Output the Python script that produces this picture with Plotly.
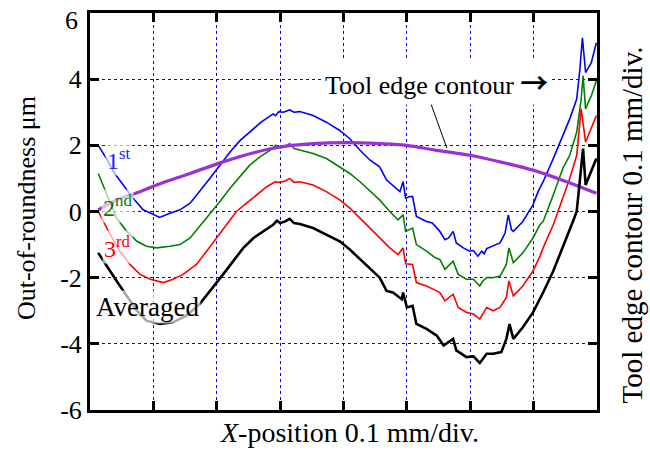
import plotly.graph_objects as go

# ---- data (x in 0.1 mm divisions, y in µm) ----
first_x = [0.13, 0.26, 0.39, 0.53, 0.68, 0.84, 1.0, 1.1, 1.26, 1.42, 1.58, 1.73, 1.89, 2.05, 2.21, 2.37, 2.52, 2.7, 2.89,
           2.93, 2.98, 3.05, 3.15, 3.22, 3.31, 3.52, 3.73, 3.94, 4.1, 4.26, 4.42, 4.57, 4.68, 4.81, 4.89, 4.94, 4.98,
           5.05, 5.09, 5.15, 5.31, 5.4, 5.52, 5.6, 5.66, 5.73, 5.78, 5.89, 5.99, 6.05, 6.12, 6.18, 6.22, 6.26, 6.36,
           6.47, 6.55, 6.6, 6.65, 6.68, 6.83, 6.99, 7.07, 7.15, 7.31, 7.46, 7.57, 7.68, 7.73, 7.77, 7.82, 7.91, 7.99]
first_y = [2.0, 1.6, 1.15, 0.8, 0.4, 0.05, -0.1, -0.18, -0.05, 0.05, 0.25, 0.6, 1.0, 1.4, 1.8, 2.15, 2.4, 2.7, 2.95,
           2.9, 3.02, 3.0, 3.07, 3.0, 3.02, 2.9, 2.7, 2.45, 2.2, 1.85, 1.55, 1.35, 0.95, 0.75, 0.6, 0.9, 0.4,
           0.45, 0.45, -0.15, -0.3, -0.35, -0.6, -0.85, -0.8, -0.6, -0.95, -1.1, -1.2, -1.18, -1.35, -1.2, -1.28, -1.12, -1.05,
           -0.95, -0.65, -0.1, -0.55, -0.6, -0.3, 0.2, 0.6, 0.9, 1.6, 2.3, 2.8, 3.4, 4.3, 5.25, 4.2, 4.5, 5.1]

second_x = [0.13, 0.24, 0.32, 0.42, 0.58, 0.74, 0.89, 1.05, 1.26, 1.42, 1.58, 1.73, 1.89, 2.05, 2.21, 2.37, 2.52, 2.68,
            2.84, 2.93, 3.0, 3.08, 3.15, 3.22, 3.31, 3.52, 3.73, 3.94, 4.1, 4.26, 4.42, 4.57, 4.73, 4.86, 4.94, 4.98,
            5.09, 5.15, 5.31, 5.45, 5.52, 5.6, 5.73, 5.81, 5.94, 6.05, 6.15, 6.2, 6.26, 6.36, 6.47, 6.57, 6.61, 6.68,
            6.83, 6.99, 7.1, 7.15, 7.31, 7.46, 7.57, 7.68, 7.75, 7.78, 7.82, 7.91, 7.99]
second_y = [1.15, 0.65, 0.25, -0.2, -0.6, -0.9, -1.05, -1.1, -1.05, -1.0, -0.8, -0.45, -0.1, 0.3, 0.7, 1.05, 1.4, 1.65,
            1.85, 2.0, 1.92, 1.95, 2.05, 1.9, 1.85, 1.75, 1.6, 1.35, 1.15, 0.9, 0.6, 0.35, 0.0, -0.25, -0.1, -0.6,
            -0.5, -1.0, -1.2, -1.4, -1.45, -1.75, -1.5, -1.9, -2.05, -2.05, -2.25, -2.1, -2.0, -2.0, -1.95, -1.6, -1.1, -1.55,
            -1.25, -0.8, -0.4, -0.3, 0.5, 1.3, 1.7, 2.4, 3.4, 4.1, 3.1, 3.5, 3.95]

third_x = [0.13, 0.21, 0.32, 0.47, 0.63, 0.79, 0.95, 1.16, 1.31, 1.47, 1.68, 1.84, 2.0, 2.16, 2.31, 2.47, 2.63, 2.79,
           2.92, 3.0, 3.08, 3.15, 3.22, 3.31, 3.52, 3.73, 3.94, 4.1, 4.26, 4.42, 4.57, 4.73, 4.86, 4.94, 4.98, 5.09,
           5.15, 5.31, 5.47, 5.52, 5.6, 5.73, 5.81, 5.94, 6.05, 6.15, 6.26, 6.36, 6.47, 6.57, 6.61, 6.68, 6.83, 6.99,
           7.1, 7.15, 7.31, 7.46, 7.57, 7.68, 7.75, 7.82, 7.91, 7.99]
third_y = [0.0, -0.3, -0.7, -1.2, -1.6, -1.9, -2.05, -2.15, -2.05, -1.9, -1.6, -1.2, -0.8, -0.4, 0.0, 0.25, 0.5, 0.75,
           0.9, 0.88, 0.92, 1.0, 0.88, 0.9, 0.8, 0.6, 0.35, 0.1, -0.2, -0.5, -0.8, -1.1, -1.3, -1.1, -1.58, -1.6,
           -2.15, -2.25, -2.4, -2.45, -2.7, -2.5, -2.9, -3.05, -3.1, -3.25, -2.9, -3.0, -2.9, -2.6, -2.1, -2.55, -2.25, -1.8,
           -1.35, -1.1, -0.4, 0.4, 1.0, 1.7, 3.1, 2.1, 2.5, 2.9]

avg_x = [0.13, 0.26, 0.42, 0.58, 0.74, 0.89, 1.1, 1.31, 1.52, 1.73, 1.94, 2.1, 2.26, 2.42, 2.58, 2.73, 2.89, 2.95,
         3.0, 3.08, 3.15, 3.22, 3.31, 3.52, 3.73, 3.94, 4.1, 4.26, 4.42, 4.57, 4.68, 4.78, 4.92, 4.94, 5.0, 5.09,
         5.15, 5.31, 5.47, 5.58, 5.73, 5.78, 5.94, 6.05, 6.15, 6.26, 6.36, 6.49, 6.57, 6.62, 6.68, 6.83, 6.99, 7.15,
         7.31, 7.46, 7.62, 7.68, 7.75, 7.78, 7.82, 7.91, 7.99]
avg_y = [-1.25, -1.65, -2.1, -2.55, -3.0, -3.3, -3.4, -3.35, -3.15, -2.8, -2.3, -1.9, -1.5, -1.1, -0.8, -0.6, -0.4, -0.28,
         -0.35, -0.3, -0.22, -0.35, -0.38, -0.5, -0.7, -0.9, -1.15, -1.45, -1.75, -2.0, -2.4, -2.45, -2.65, -2.45, -2.9, -2.85,
         -3.4, -3.55, -3.75, -4.05, -3.85, -4.2, -4.4, -4.38, -4.58, -4.3, -4.3, -4.25, -3.85, -3.4, -3.85, -3.5, -3.05, -2.45,
         -1.8, -1.1, -0.3, 0.0, 1.2, 1.9, 0.8, 1.2, 1.6]

tool_x = [0.13, 0.42, 0.79, 1.05, 1.58, 2.1, 2.63, 3.0, 3.52, 4.05, 4.57, 4.99, 5.47, 5.99, 6.47, 6.99, 7.52, 7.99]
tool_y = [0.05, 0.35, 0.6, 0.8, 1.15, 1.5, 1.8, 1.95, 2.05, 2.08, 2.05, 2.0, 1.85, 1.7, 1.5, 1.25, 0.9, 0.55]

y_ticks = [-6, -4, -2, 0, 2, 4, 6]
y_tick_text = ["-6", "-4", "-2", "0", "2", "4", ""]
top_tick_label = "6"
x_ticks = [1, 2, 3, 4, 5, 6, 7]

FONT = "Liberation Serif"

fig = go.Figure()
fig.add_trace(go.Scatter(x=first_x, y=first_y, mode="lines", line=dict(color="#0000ff", width=1.6)))
fig.add_trace(go.Scatter(x=second_x, y=second_y, mode="lines", line=dict(color="#008000", width=1.6)))
fig.add_trace(go.Scatter(x=third_x, y=third_y, mode="lines", line=dict(color="#ff0000", width=1.6)))
fig.add_trace(go.Scatter(x=tool_x, y=tool_y, mode="lines", line=dict(color="#9b30d9", width=3.2, shape="spline")))
fig.add_trace(go.Scatter(x=avg_x, y=avg_y, mode="lines", line=dict(color="#000000", width=2.6)))

label_bg = "rgba(255,255,255,0.65)"
ann = [
    dict(x=0.46, y=1.6, text="1<sup>st</sup>", font=dict(color="#2020ff", size=24, family=FONT)),
    dict(x=0.43, y=0.18, text="2<sup>nd</sup>", font=dict(color="#008000", size=24, family=FONT)),
    dict(x=0.44, y=-1.08, text="3<sup>rd</sup>", font=dict(color="#ff0000", size=24, family=FONT)),
    dict(x=0.91, y=-2.9, text="Averaged", font=dict(color="#000000", size=27, family=FONT)),
]
for a in ann:
    fig.add_annotation(xref="x", yref="y", showarrow=False, bgcolor=label_bg, borderpad=1,
                       xanchor="center", yanchor="middle", **a)

fig.add_annotation(xref="x", yref="y", x=5.47, y=3.9, showarrow=False, bgcolor="white", borderpad=2,
                   xanchor="center", yanchor="middle",
                   text="Tool edge contour <span style='font-family:Noto Sans CJK JP;font-size:28px;font-weight:bold'>→</span>",
                   font=dict(color="black", size=26, family=FONT))
fig.add_shape(type="line", xref="x", yref="y", x0=5.36, y0=3.36, x1=5.63, y1=1.92,
              line=dict(color="black", width=1))

# axis titles
fig.add_annotation(xref="paper", yref="paper", x=-0.124, y=0.509, text="Out-of-roundness μm", textangle=-90,
                   xanchor="center", yanchor="middle",
                   showarrow=False, font=dict(size=26, family=FONT, color="black"))
fig.add_annotation(xref="paper", yref="paper", x=1.069, y=0.4675, text="Tool edge contour 0.1 mm/div.",
                   xanchor="center", yanchor="middle",
                   textangle=-90, showarrow=False, font=dict(size=29, family=FONT, color="black"))
fig.add_annotation(xref="paper", yref="paper", x=0.512, y=-0.0575, text="<i>X</i>-position 0.1 mm/div.",
                   xanchor="center", yanchor="middle",
                   showarrow=False, font=dict(size=28, family=FONT, color="black"))
fig.add_annotation(xref="paper", yref="paper", x=-0.02, y=0.981, text=top_tick_label,
                   xanchor="right", yanchor="middle",
                   showarrow=False, font=dict(size=26, family=FONT, color="black"))

grid = dict(showgrid=True, gridcolor="#0000ff", gridwidth=1, griddash="3px,3px")
fig.update_xaxes(range=[0, 8], tickvals=x_ticks, showticklabels=False, ticks="inside", ticklen=9, tickwidth=3,
                 tickcolor="black", showline=True, linecolor="black", linewidth=3, mirror="ticks",
                 zeroline=False, **grid)
fig.update_yaxes(range=[-6, 6], tickvals=y_ticks, ticktext=y_tick_text, ticks="inside", ticklen=9, tickwidth=3,
                 tickcolor="black", showline=True, linecolor="black", linewidth=3, mirror="ticks",
                 zeroline=False, tickfont=dict(size=26, family=FONT, color="black"), **grid)
fig.update_layout(width=650, height=453, margin=dict(l=90, r=53, t=10, b=43), showlegend=False,
                  plot_bgcolor="white", paper_bgcolor="white", font=dict(family=FONT))
fig.write_html("out.html")
